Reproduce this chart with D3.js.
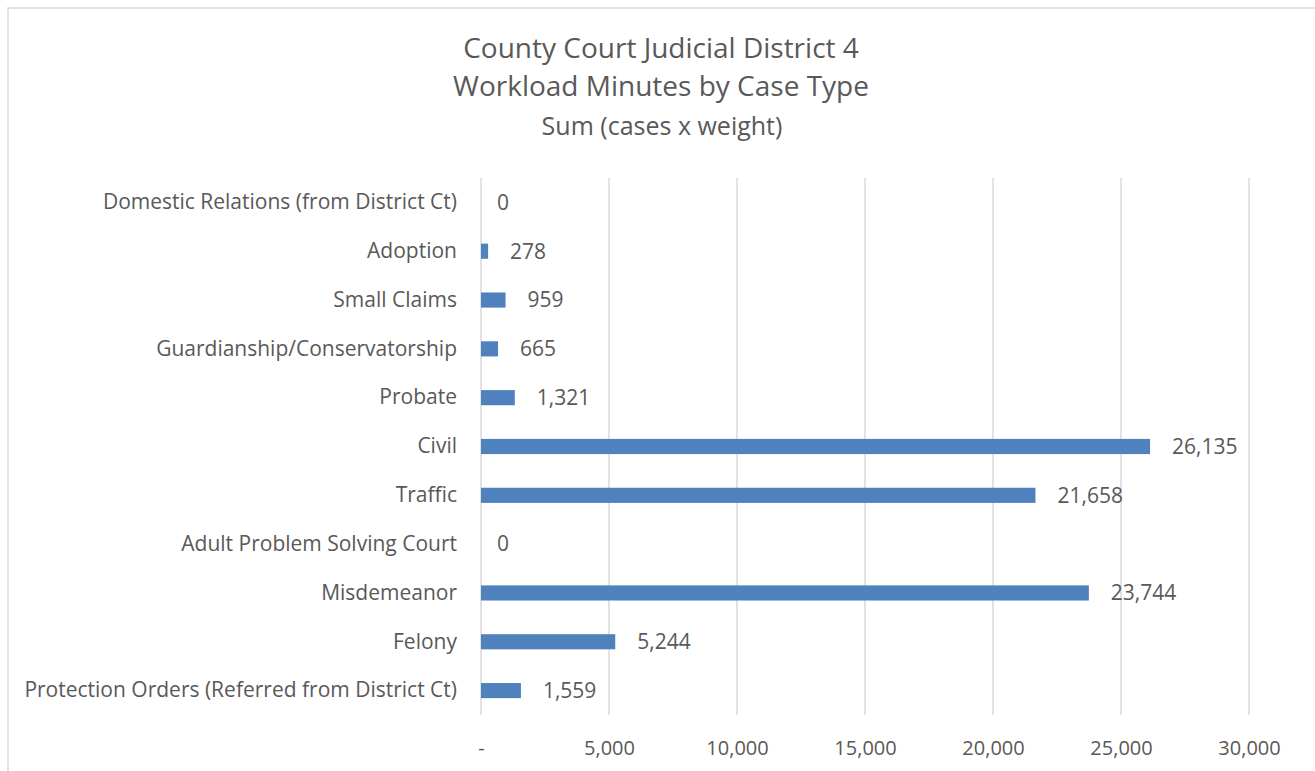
<!DOCTYPE html>
<html>
<head>
<meta charset="utf-8">
<script src="https://cdn.jsdelivr.net/npm/d3@7"></script>
<style>
  body { margin: 0; background: #fff; }
  svg text { font-family: "Open Sans", sans-serif; fill: #595959; }
</style>
</head>
<body>
<div id="chart"></div>
<script>
// bottom to top order as drawn in the picture
const categories = [
    "Protection Orders (Referred from District Ct)",
    "Felony",
    "Misdemeanor",
    "Adult Problem Solving Court",
    "Traffic",
    "Civil",
    "Probate",
    "Guardianship/Conservatorship",
    "Small Claims",
    "Adoption",
    "Domestic Relations (from District Ct)"
];
const minutes = [1559, 5244, 23744, 0, 21658, 26135, 1321, 665, 959, 278, 0];
const tickValues = [0, 5000, 10000, 15000, 20000, 25000, 30000];
const titleLines = ["County Court Judicial District 4", "Workload Minutes by Case Type"];
const subTitle = "Sum (cases x weight)";

const width = 1315;
const height = 771;
const margin = {top: 178, right: 66, bottom: 56, left: 481};

const svg = d3.select('#chart').append('svg')
    .attr('width', width)
    .attr('height', height);

// chart frame
svg.append('rect')
    .attr('x', 8).attr('y', 8)
    .attr('width', width + 20).attr('height', height + 20)
    .attr('fill', 'none')
    .attr('stroke', '#d9d9d9')
    .attr('stroke-width', 1.5);

const x = d3.scaleLinear()
    .domain([0, 30000])
    .range([margin.left, width - margin.right]);

const y = d3.scaleBand()
    .domain(d3.range(categories.length).reverse())
    .range([margin.top, height - margin.bottom])
    .paddingInner(0.69)
    .paddingOuter(0.345);

// gridlines
svg.append('g')
    .selectAll('line')
    .data(tickValues)
    .enter().append('line')
    .attr('x1', d => x(d)).attr('x2', d => x(d))
    .attr('y1', margin.top).attr('y2', height - margin.bottom)
    .attr('stroke', '#d9d9d9')
    .attr('stroke-width', 1.5);

// x axis labels
const fmt = d3.format(',');
const xAxis = d3.axisBottom(x)
    .tickValues(tickValues)
    .tickSize(0)
    .tickPadding(0)
    .tickFormat(d => d === 0 ? '-' : fmt(d));
const gx = svg.append('g')
    .attr('transform', 'translate(0, 755)')
    .call(xAxis);
gx.select('.domain').remove();
gx.selectAll('text')
    .style('font-size', '20px')
    .attr('dy', 0);

// category labels
const yAxis = d3.axisLeft(y)
    .tickSize(0)
    .tickPadding(24)
    .tickFormat(i => categories[i]);
const gy = svg.append('g')
    .attr('transform', `translate(${margin.left}, 0)`)
    .call(yAxis);
gy.select('.domain').remove();
gy.selectAll('text').style('font-size', '21px');

// bars
const idx = d3.range(categories.length);
svg.append('g')
    .selectAll('rect')
    .data(idx)
    .enter().append('rect')
    .attr('x', x(0))
    .attr('y', i => y(i))
    .attr('width', i => x(minutes[i]) - x(0))
    .attr('height', y.bandwidth())
    .attr('fill', '#4f81bd');

// value labels
svg.append('g')
    .selectAll('text')
    .data(idx)
    .enter().append('text')
    .attr('x', i => x(minutes[i]) + (minutes[i] > 0 ? 22 : 16))
    .attr('y', i => y(i) + y.bandwidth() / 2)
    .attr('dy', '0.35em')
    .style('font-size', '21px')
    .text(i => fmt(minutes[i]));

// titles
svg.append('g')
    .selectAll('text')
    .data(titleLines)
    .enter().append('text')
    .attr('x', 661)
    .attr('y', (d, i) => 58 + i * 38)
    .attr('text-anchor', 'middle')
    .style('font-size', '28px')
    .text(d => d);

svg.append('text')
    .attr('x', 662)
    .attr('y', 135)
    .attr('text-anchor', 'middle')
    .style('font-size', '25px')
    .text(subTitle);
</script>
</body>
</html>
